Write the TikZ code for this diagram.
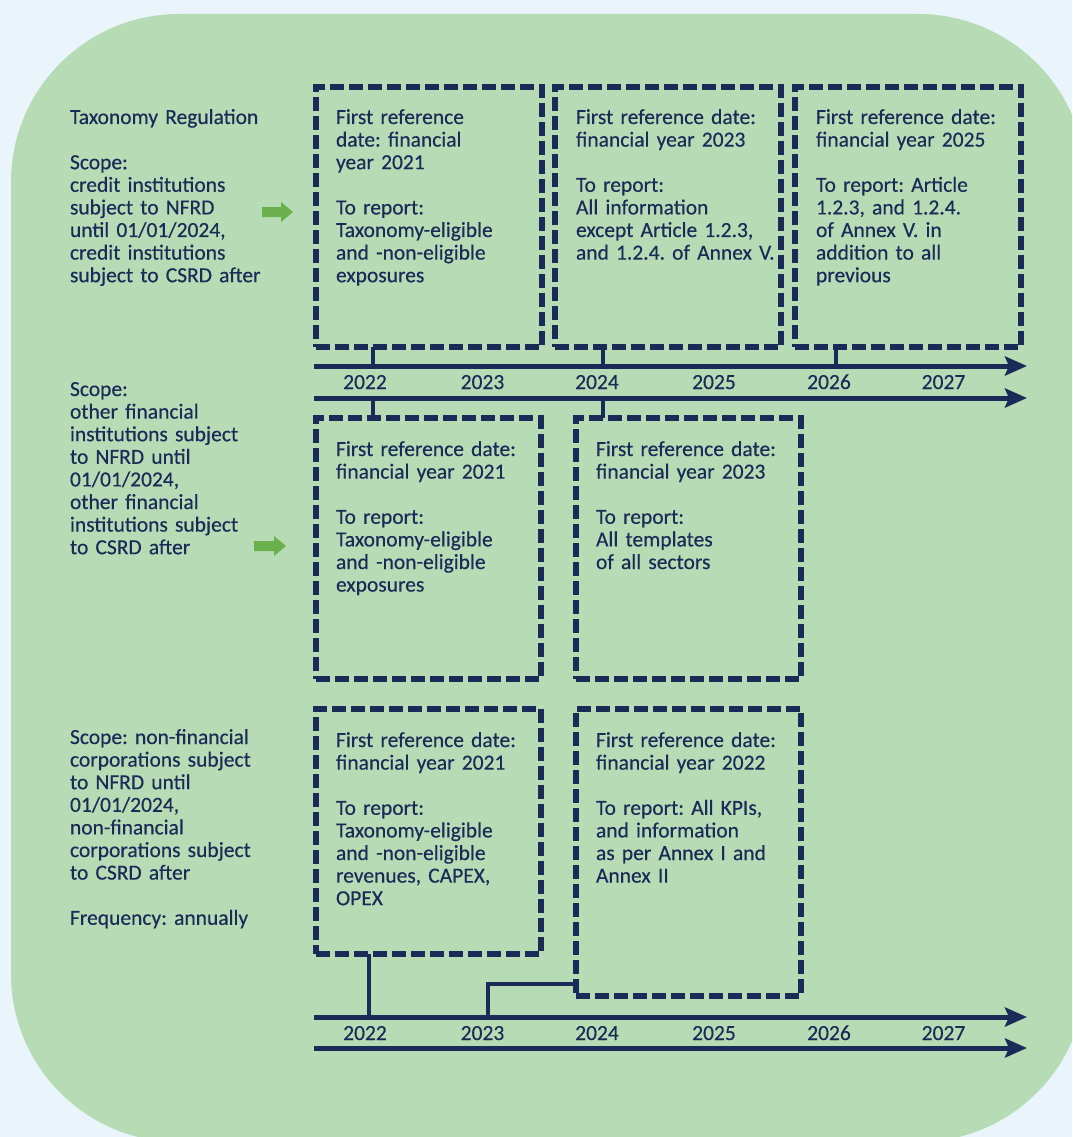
\documentclass[tikz,border=0pt]{standalone}
\usepackage{fontspec}
\setmainfont{Carlito}[FakeBold=0.35]
\usetikzlibrary{arrows.meta}

\definecolor{bgblue}{HTML}{EAF4FB}
\definecolor{panel}{HTML}{B7DCB5}
\definecolor{navy}{HTML}{1B2B57}
\definecolor{arrowgreen}{HTML}{6AB04C}

\tikzset{
  stagebox/.style={draw=navy, line width=5.5pt, dash pattern=on 14pt off 5pt,
    inner sep=0pt, outer sep=0pt, anchor=north west},
  txt/.style={text=navy, font=\fontsize{21.5}{22.6}\selectfont, align=left,
    text width=250pt, inner sep=0pt, outer sep=0pt, anchor=base west},
  yr/.style={text=navy, font=\fontsize{21.5}{22.6}\selectfont, inner sep=0pt, anchor=base},
  axis/.style={draw=navy, line width=5pt, -{Stealth[length=22pt, width=19pt, inset=4pt]}},
  conn/.style={draw=navy, line width=4.5pt},
  pointer/.style={fill=arrowgreen}
}

\begin{document}
\frenchspacing
\begin{tikzpicture}[x=1pt, y=-1pt]
\useasboundingbox (0,0) rectangle (1072,1137);
\fill[bgblue] (0,0) rectangle (1072,1137);
\begin{scope}
  \clip (0,0) rectangle (1072,1137);
  \fill[panel, rounded corners=168pt] (11,14) rectangle (1086,1142);
\end{scope}

% ---------- left column: scope descriptions ----------
\node[txt] (scope1) at (70,124) {Taxonomy Regulation\\[22.6pt]Scope:\\credit institutions\\subject to NFRD\\until 01/01/2024,\\credit institutions\\subject to CSRD after};
\node[txt] (scope2) at (70,396) {Scope:\\other financial\\institutions subject\\to NFRD until\\01/01/2024,\\other financial\\institutions subject\\to CSRD after};
\node[txt] (scope3) at (70,744) {Scope: non-financial\\corporations subject\\to NFRD until\\01/01/2024,\\non-financial\\corporations subject\\to CSRD after\\[22.6pt]Frequency: annually};

% green pointers
\fill[pointer] (262,207) -- (281,207) -- (281,202) -- (293,212) -- (281,222) -- (281,217) -- (262,217) -- cycle;
\fill[pointer] (254,541) -- (274,541) -- (274,536) -- (286,546) -- (274,556) -- (274,551) -- (254,551) -- cycle;

% ---------- dashed stage boxes ----------
\node[stagebox, minimum width=226pt, minimum height=260pt] (b1) at (316,87) {};
\node[stagebox, minimum width=226pt, minimum height=260pt] (b2) at (555,87) {};
\node[stagebox, minimum width=226pt, minimum height=260pt] (b3) at (795,87) {};
\node[stagebox, minimum width=225pt, minimum height=261pt] (b4) at (316,418) {};
\node[stagebox, minimum width=225pt, minimum height=261pt] (b5) at (576,418) {};
\node[stagebox, minimum width=225pt, minimum height=245pt] (b6) at (316,709) {};
\node[stagebox, minimum width=225pt, minimum height=287pt] (b7) at (576,709) {};

% box contents
\node[txt] (t1) at (336,124) {First reference\\date: financial\\year 2021\\[22.6pt]To report:\\Taxonomy-eligible\\and -non-eligible\\exposures};
\node[txt] (t2) at (576,124) {First reference date:\\financial year 2023\\[22.6pt]To report:\\All information\\except Article 1.2.3,\\and 1.2.4. of Annex V.};
\node[txt] (t3) at (816,124) {First reference date:\\financial year 2025\\[22.6pt]To report: Article\\1.2.3, and 1.2.4.\\of Annex V. in\\addition to all\\previous};
\node[txt] (t4) at (336,456) {First reference date:\\financial year 2021\\[22.6pt]To report:\\Taxonomy-eligible\\and -non-eligible\\exposures};
\node[txt] (t5) at (596,456) {First reference date:\\financial year 2023\\[22.6pt]To report:\\All templates\\of all sectors};
\node[txt] (t6) at (336,747) {First reference date:\\financial year 2021\\[22.6pt]To report:\\Taxonomy-eligible\\and -non-eligible\\revenues, CAPEX,\\OPEX};
\node[txt] (t7) at (596,747) {First reference date:\\financial year 2022\\[22.6pt]To report: All KPIs,\\and information\\as per Annex I and\\Annex II};

% ---------- timelines ----------
\coordinate (L1a) at (314,366);  \coordinate (L1b) at (1027,366);
\coordinate (L2a) at (314,398);  \coordinate (L2b) at (1027,398);
\coordinate (L3a) at (314,1017); \coordinate (L3b) at (1027,1017);
\coordinate (L4a) at (314,1048); \coordinate (L4b) at (1027,1048);

% connectors from boxes to the time axes
\draw[conn] ([xshift=57pt]b1.south west) -- ([xshift=57pt]b1.south west |- L1a);
\draw[conn] ([xshift=48pt]b2.south west) -- ([xshift=48pt]b2.south west |- L1a);
\draw[conn] ([xshift=41pt]b3.south west) -- ([xshift=41pt]b3.south west |- L1a);
\draw[conn] ([xshift=57pt]b4.north west) -- ([xshift=57pt]b4.north west |- L2a);
\draw[conn] ([xshift=27pt]b5.north west) -- ([xshift=27pt]b5.north west |- L2a);
\draw[conn] ([xshift=53pt]b6.south west) -- ([xshift=53pt]b6.south west |- L3a);
\draw[conn] ([xshift=174pt]L3a) |- ([yshift=12pt]b7.south west);

\draw[axis] (L1a) -- (L1b);
\draw[axis] (L2a) -- (L2b);
\draw[axis] (L3a) -- (L3b);
\draw[axis] (L4a) -- (L4b);

% year labels
\foreach \yv/\xv [count=\i] in {2022/365, 2023/482.5, 2024/597, 2025/714, 2026/829, 2027/943.5} {
  \node[yr] (ya\i) at (\xv,389) {\yv};
  \node[yr] (yb\i) at (\xv,1040) {\yv};
}
\end{tikzpicture}
\end{document}
